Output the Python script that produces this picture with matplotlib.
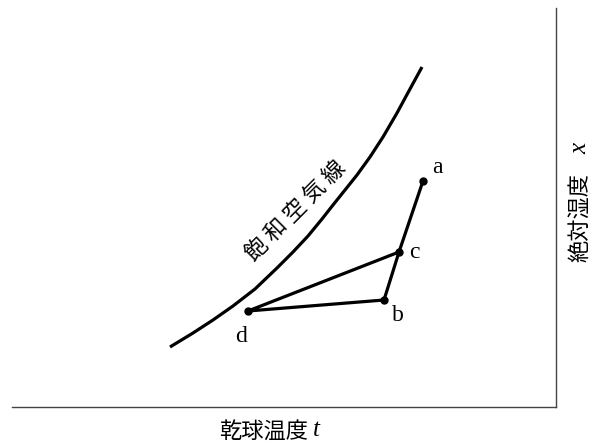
import matplotlib
matplotlib.use("Agg")
import matplotlib.pyplot as plt

# Saturation curve (arbitrary units: dry-bulb temperature vs absolute humidity)
sat_t = [158, 181, 201, 221, 243, 265, 281, 296, 310, 321, 333, 345, 358, 371, 385, 398, 410]
sat_x = [60, 74, 87, 101, 118, 139, 155, 171, 188, 202, 217, 232, 250, 270, 294, 318, 340]

# State points
point_names = ["a", "b", "c", "d"]
point_t = [411, 372, 387, 236]
point_x = [226, 107, 155, 96]

# drawing order of the process path: a -> c -> b -> d -> c
path_order = ["a", "c", "b", "d", "c"]

# label offsets (in points)
label_offsets = {"a": (10, 10), "b": (10, -11), "c": (11, 0), "d": (-5, -18)}

CJK = ["Noto Sans CJK JP", "DejaVu Sans"]
SERIF = "Liberation Serif"

fig = plt.figure(figsize=(5.98, 4.43), dpi=100)
W, H = 598, 443
ax = fig.add_axes([12 / W, (H - 407) / H, (556 - 12) / W, (407 - 8) / H])
ax.set_xlim(0, 544)
ax.set_ylim(0, 399)
ax.set_xticks([])
ax.set_yticks([])
for s in ["left", "top"]:
    ax.spines[s].set_visible(False)
for s in ["bottom", "right"]:
    ax.spines[s].set_color("#444444")
    ax.spines[s].set_linewidth(1.0)

ax.plot(sat_t, sat_x, color="black", lw=2.3, solid_capstyle="butt",
        solid_joinstyle="round")

idx = {n: i for i, n in enumerate(point_names)}
ax.plot([point_t[idx[n]] for n in path_order], [point_x[idx[n]] for n in path_order],
        color="black", lw=2.3, solid_joinstyle="round")
ax.plot(point_t, point_x, "o", color="black", ms=5)

for n, t, x in zip(point_names, point_t, point_x):
    dx, dy = label_offsets[n]
    ax.annotate(n, (t, x), xytext=(dx, dy), textcoords="offset points",
                ha="center", va="center", fontsize=17, family=SERIF)

ax.text(284, 196, "飽 和 空 気 線", rotation=45, ha="center", va="center",
        fontsize=16, family=CJK, rotation_mode="anchor")

# axis labels
fig.text(264 / W, 1 - 431 / H, "乾球温度", ha="center", va="center", fontsize=16, family=CJK)
fig.text(316 / W, 1 - 430 / H, "t", ha="center", va="center", fontsize=18,
         family=SERIF, style="italic")
fig.text(580 / W, 1 - 217 / H, "絶対湿度", ha="center", va="center", rotation=90,
         fontsize=16, family=CJK)
fig.text(580 / W, 1 - 148 / H, "x", ha="center", va="center", rotation=90,
         fontsize=18, family=SERIF, style="italic")

fig.savefig("out.png", dpi=100)
